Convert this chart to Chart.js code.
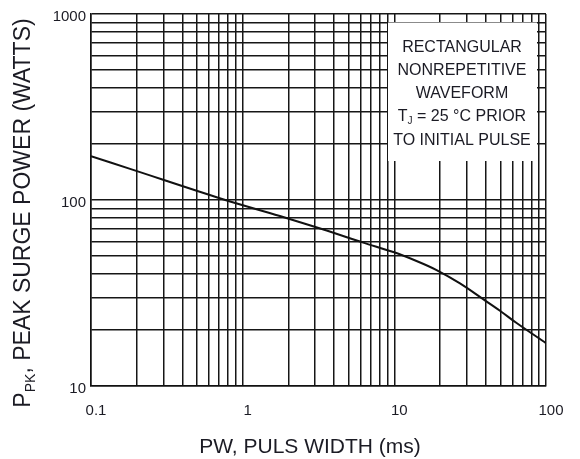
<!DOCTYPE html>
<html>
<head>
<meta charset="utf-8">
<script src="https://cdn.jsdelivr.net/npm/chart.js@4.4.1/dist/chart.umd.min.js"></script>
<style>
html,body{margin:0;padding:0;background:#fff;}
#wrap{width:580px;height:459px;}
</style>
</head>
<body>
<div id="wrap"><canvas id="c" width="580" height="459"></canvas></div>
<script>
// ---- data ----
const pulseWidthMs = [0.1, 0.181, 0.741, 1.76, 3.58, 6.24, 9.85, 14.0, 19.0, 27.1, 38.5, 49.7, 64, 100];
const peakPowerW   = [172, 147, 101, 82, 68.5, 59, 52.5, 47, 42, 35.6, 29.3, 25.4, 21.8, 17];

// grid / tick values
const xGridValues = [0.1,0.2,0.3,0.4,0.5,0.6,0.7,0.8,0.9,1,2,3,4,5,6,7,8,9,10,20,30,40,50,60,70,80,90,100];
const yGridValues = [10,20,30,40,50,60,70,80,90,100,200,300,400,500,600,700,800,900,1000];
const xLabelValues = [0.1, 1, 10, 100];
const xTickLabels  = ['0.1', '1', '10', '100'];
const yLabelValues = [10, 100, 1000];
const yTickLabels  = ['10', '100', '1000'];

const noteLines = ['RECTANGULAR', 'NONREPETITIVE', 'WAVEFORM', null, 'TO INITIAL PULSE'];
const xTitle = 'PW, PULS WIDTH (ms)';
const yTitleMain = 'P', yTitleSub = 'PK', yTitleRest = ', PEAK SURGE POWER (WATTS)';

const FONT = '"Liberation Sans", Arial, sans-serif';
const TEXT = '#1b1b24';

const points = pulseWidthMs.map((x, i) => ({x: x, y: peakPowerW[i]}));

const overlay = {
  id: 'overlay',
  beforeDatasetsDraw(chart) {
    const ctx = chart.ctx;
    ctx.save();
    // white note box covering the grid
    ctx.fillStyle = '#fff';
    ctx.fillRect(388, 22.5, 537 - 388, 161 - 22.5);
    ctx.fillStyle = TEXT;
    ctx.textBaseline = 'alphabetic';
    ctx.textAlign = 'center';
    ctx.font = '16px ' + FONT;
    const cx = 462;
    const base = [52, 75, 98, 121, 145];
    noteLines.forEach((t, i) => { if (t) ctx.fillText(t, cx, base[i]); });
    // T_J = 25 °C PRIOR
    const a = 'T', s = 'J', b = ' = 25 \u00B0C PRIOR';
    ctx.font = '16px ' + FONT; const wa = ctx.measureText(a).width, wb = ctx.measureText(b).width;
    ctx.font = '10px ' + FONT; const ws = ctx.measureText(s).width;
    let x0 = cx - (wa + ws + wb) / 2;
    ctx.textAlign = 'left';
    ctx.font = '16px ' + FONT; ctx.fillText(a, x0, base[3]);
    ctx.font = '10px ' + FONT; ctx.fillText(s, x0 + wa, base[3] + 3);
    ctx.font = '16px ' + FONT; ctx.fillText(b, x0 + wa + ws, base[3]);
    ctx.restore();
  },
  afterDraw(chart) {
    const ctx = chart.ctx;
    ctx.save();
    ctx.fillStyle = TEXT;
    // x title
    ctx.font = '21px ' + FONT;
    ctx.textAlign = 'center';
    ctx.textBaseline = 'alphabetic';
    ctx.fillText(xTitle, 310, 453);
    // y title (rotated, with subscript)
    ctx.font = '23px ' + FONT; const w1 = ctx.measureText(yTitleMain).width, w3 = ctx.measureText(yTitleRest).width;
    ctx.font = '14px ' + FONT; const w2 = ctx.measureText(yTitleSub).width;
    const total = w1 + w2 + w3;
    ctx.translate(30, 213);
    ctx.rotate(-Math.PI / 2);
    ctx.textAlign = 'left';
    let x = -total / 2;
    ctx.font = '23px ' + FONT; ctx.fillText(yTitleMain, x, 0);
    ctx.font = '14px ' + FONT; ctx.fillText(yTitleSub, x + w1, 5);
    ctx.font = '23px ' + FONT; ctx.fillText(yTitleRest, x + w1 + w2, 0);
    ctx.restore();
  }
};

new Chart(document.getElementById('c'), {
  type: 'line',
  data: {
    datasets: [{
      data: points,
      borderColor: '#111',
      borderWidth: 2,
      pointRadius: 0,
      fill: false,
      tension: 0.35
    }]
  },
  options: {
    responsive: false,
    animation: false,
    devicePixelRatio: 1,
    layout: { padding: { left: 0, right: 34, top: 13, bottom: 0 } },
    plugins: { legend: { display: false }, tooltip: { enabled: false }, title: { display: false } },
    scales: {
      x: {
        type: 'logarithmic',
        min: 0.1, max: 100,
        afterBuildTicks: (scale) => { scale.ticks = xGridValues.map(v => ({value: v})); },
        afterFit: (scale) => { scale.height = 73; },
        grid: { color: '#161616', lineWidth: 1.5, drawTicks: false },
        border: { color: '#111', width: 1.5 },
        ticks: {
          autoSkip: false, maxRotation: 0, padding: 16, labelOffset: 5,
          color: TEXT, font: { family: FONT, size: 15 },
          callback: (v) => { const i = xLabelValues.indexOf(v); return i >= 0 ? xTickLabels[i] : ''; }
        }
      },
      y: {
        type: 'logarithmic',
        min: 10, max: 1000,
        afterBuildTicks: (scale) => { scale.ticks = yGridValues.map(v => ({value: v})); },
        afterFit: (scale) => { scale.width = 91; },
        grid: { color: '#161616', lineWidth: 1.5, drawTicks: false },
        border: { color: '#111', width: 1.5 },
        ticks: {
          autoSkip: false, padding: 5, labelOffset: 3,
          color: TEXT, font: { family: FONT, size: 15 },
          callback: (v) => { const i = yLabelValues.indexOf(v); return i >= 0 ? yTickLabels[i] : ''; }
        }
      }
    }
  },
  plugins: [overlay]
});
</script>
</body>
</html>
